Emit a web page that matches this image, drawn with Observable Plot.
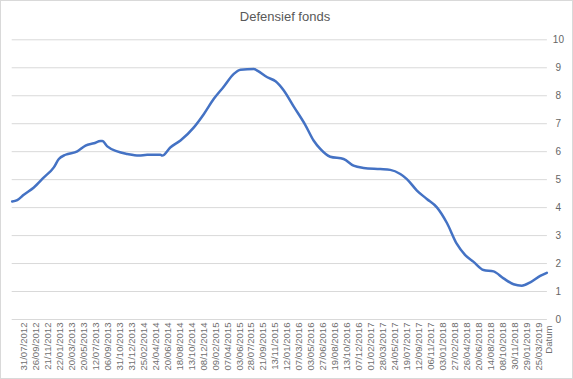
<!DOCTYPE html>
<html>
<head>
<meta charset="utf-8">
<script src="https://cdn.jsdelivr.net/npm/d3@7"></script>
<script src="https://cdn.jsdelivr.net/npm/@observablehq/plot@0.6"></script>
<style>
  html, body { margin: 0; padding: 0; background: #fff; }
  #chart { position: relative; width: 573px; height: 379px; box-shadow: inset 0 0 0 1px #d9d9d9; overflow: hidden; font-family: "Liberation Sans", Arial, sans-serif; }
  #title { position: absolute; left: 0; top: 0; width: 570px; height: 34px; line-height: 34px; text-align: center; font-size: 13px; color: #595959; }
  #plot { position: absolute; left: 0; top: 30px; }
</style>
</head>
<body>
<div id="chart">
  <div id="title">Defensief fonds</div>
  <div id="plot"></div>
</div>
<script>
const chartTitle = "Defensief fonds";
const xTitle = "Datum";
const dateLabels = [
  "31/07/2012","26/09/2012","21/11/2012","22/01/2013","20/03/2013","20/05/2013","12/07/2013",
  "06/09/2013","31/10/2013","31/12/2013","25/02/2014","24/04/2014","20/06/2014","18/08/2014",
  "13/10/2014","08/12/2014","09/02/2015","07/04/2015","03/06/2015","28/07/2015","21/09/2015",
  "13/11/2015","12/01/2016","07/03/2016","03/05/2016","27/06/2016","19/08/2016","13/10/2016",
  "07/12/2016","01/02/2017","28/03/2017","24/05/2017","19/07/2017","12/09/2017","06/11/2017",
  "03/01/2018","27/02/2018","26/04/2018","20/06/2018","14/08/2018","08/10/2018","30/11/2018",
  "29/01/2019","25/03/2019"
];
// position along the category axis, in units of label intervals (label i sits at i)
const samplePos = [
  -1.00,-0.58,-0.03,0.81,1.65,2.48,2.90,3.46,4.44,5.13,5.83,6.39,6.53,6.95,7.78,8.62,9.59,10.29,
  11.40,11.54,12.24,13.07,14.19,15.03,15.86,16.70,17.53,18.09,19.21,19.49,20.33,21.02,21.71,
  22.53,23.50,24.20,24.76,25.59,26.71,27.54,28.38,29.77,30.61,31.45,32.00,32.84,33.67,34.51,
  35.35,36.18,36.88,37.58,38.41,39.25,40.08,40.92,41.61,42.32,43.15,43.70
];
const sampleVal = [
  4.22,4.27,4.46,4.72,5.08,5.44,5.74,5.89,6.01,6.22,6.30,6.38,6.38,6.19,6.01,5.92,5.86,5.89,
  5.89,5.86,6.16,6.40,6.87,7.35,7.89,8.33,8.78,8.93,8.96,8.90,8.66,8.52,8.19,
  7.62,6.96,6.40,6.10,5.82,5.74,5.50,5.42,5.38,5.35,5.20,5.02,4.61,4.31,4.01,
  3.45,2.70,2.30,2.06,1.77,1.72,1.47,1.26,1.21,1.33,1.56,1.67
];
const yTicks = [0,1,2,3,4,5,6,7,8,9,10];

const series = samplePos.map((p, i) => ({p, v: sampleVal[i]}));
const labelIdx = dateLabels.map((d, i) => i);

const plot = Plot.plot({
  width: 573,
  height: 349,
  marginTop: 9.3,
  marginBottom: 60,
  marginLeft: 11.7,
  marginRight: 26.1,
  style: {fontFamily: "'Liberation Sans', Arial, sans-serif", background: "transparent", overflow: "visible"},
  x: {domain: [-1, 43.75], axis: null},
  y: {domain: [0, 10], axis: null},
  marks: [
    Plot.ruleY(yTicks, {stroke: "#d9d9d9", strokeWidth: 1}),
    Plot.axisY({anchor: "right", ticks: yTicks, tickSize: 0, tickPadding: 11, textAnchor: "middle", fontSize: 10, fill: "#666666", label: null}),
    Plot.axisX({anchor: "bottom", ticks: labelIdx, tickFormat: i => dateLabels[i], tickRotate: -90, tickSize: 0, tickPadding: 3, fontSize: 9.6, fill: "#6f6f6f", label: null}),
    Plot.text([xTitle], {x: () => 43.85, y: () => 0, text: d => d, rotate: -90, textAnchor: "end", dy: 6, fontSize: 9.6, fill: "#6f6f6f"}),
    Plot.line(series, {x: "p", y: "v", curve: "monotone-x", stroke: "#4472C4", strokeWidth: 2.5, strokeLinejoin: "round", strokeLinecap: "round"})
  ]
});
document.getElementById("plot").appendChild(plot);
</script>
</body>
</html>
